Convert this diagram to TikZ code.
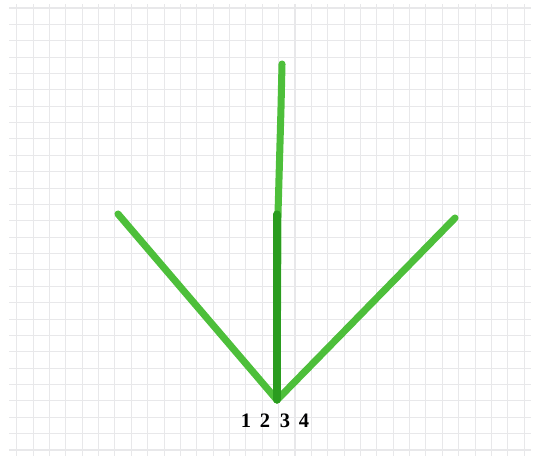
\documentclass[tikz,border=0pt]{standalone}
\usepackage{fontspec}
\setmainfont{Liberation Serif}
\definecolor{gridgray}{HTML}{E8E8EA}
\definecolor{leafgreen}{HTML}{4DBF3A}
\definecolor{stemgreen}{HTML}{2A9C1F}

\begin{document}
\begin{tikzpicture}[x=0.03cm, y=-0.03cm,
  stroke/.style={line width=6pt, line cap=round, line join=round, leafgreen},
  label/.style={font=\bfseries\fontsize{17.5}{20}\selectfont, inner sep=0pt}]
\useasboundingbox (0,0) rectangle (534,458);
% squared paper
\foreach \i in {0,...,31}
  \draw[gridgray, line width=0.9pt] (16.7+\i*16.37,4) -- (16.7+\i*16.37,456);
\foreach \j in {0,...,27}
  \draw[gridgray, line width=0.9pt] (9,8+\j*16.37) -- (531,8+\j*16.37);

\coordinate (base) at (277,400);
\coordinate (tip1) at (118,214);
\coordinate (tip2) at (282,64);
\coordinate (tip3) at (277,214);
\coordinate (tip4) at (455,218);

\draw[stroke] (base) -- (tip1);
\draw[stroke] (base) -- (278,214) -- (281,108) -- (tip2);
\draw[stroke] (base) -- (tip4);
\draw[stroke, stemgreen] (base) -- (tip3);

\node[label] (n1) at (246,421) {1};
\node[label] (n2) at (265,421) {2};
\node[label] (n3) at (285,421) {3};
\node[label] (n4) at (304,421) {4};
\end{tikzpicture}
\end{document}
